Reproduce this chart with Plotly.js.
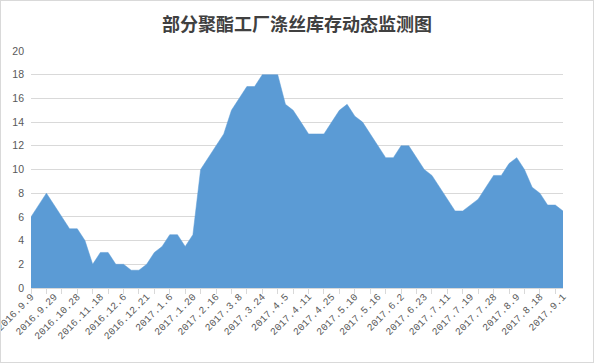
<!DOCTYPE html>
<html>
<head>
<meta charset="utf-8">
<script src="https://cdn.plot.ly/plotly-3.0.1.min.js"></script>
<style>
  html, body { margin: 0; padding: 0; background: #ffffff; }
  #wrap { width: 594px; height: 363px; box-sizing: border-box; border: 1px solid #d9d9d9; background: #fff; overflow: hidden; }
  #chart { width: 592px; height: 361px; }
</style>
</head>
<body>
<div id="wrap"><div id="chart"></div></div>
<script>
// Tick labels (every third observation is labelled)
const tickLabels = [
  "2016.9.9", "2016.9.29", "2016.10.28", "2016.11.18", "2016.12.6", "2016.12.21",
  "2017.1.6", "2017.1.20", "2017.2.16", "2017.3.8", "2017.3.24", "2017.4.5",
  "2017.4.11", "2017.4.25", "2017.5.10", "2017.5.16", "2017.6.2", "2017.6.23",
  "2017.7.11", "2017.7.19", "2017.7.28", "2017.8.9", "2017.8.18", "2017.9.1"
];

// Inventory (days), one value per observation
const inventoryDays = [
  6, 7, 8, 7, 6, 5, 5, 4, 2, 3,
  3, 2, 2, 1.5, 1.5, 2, 3, 3.5, 4.5, 4.5,
  3.5, 4.5, 10, 11, 12, 13, 15, 16, 17, 17,
  18, 18, 18, 15.5, 15, 14, 13, 13, 13, 14,
  15, 15.5, 14.5, 14, 13, 12, 11, 11, 12, 12,
  11, 10, 9.5, 8.5, 7.5, 6.5, 6.5, 7, 7.5, 8.5,
  9.5, 9.5, 10.5, 11, 10, 8.5, 8, 7, 7, 6.5
];

const titleText = "部分聚酯工厂涤丝库存动态监测图";

const labelEvery = 3;
const tickEvery = 2;

const idx = inventoryDays.map((_, i) => i);
const lastIdx = idx.length - 1;
const labelVals = tickLabels.map((_, i) => i * labelEvery);
const tickVals = idx.filter(i => i % tickEvery === 0);

const traces = [
  {
    x: idx, y: inventoryDays, type: "scatter", mode: "lines",
    fill: "tozeroy", fillcolor: "#5b9bd5",
    line: { color: "#5b9bd5", width: 0.5 },
    xaxis: "x", yaxis: "y", hoverinfo: "skip", showlegend: false
  },
  {
    x: idx, y: inventoryDays, type: "scatter", mode: "lines",
    line: { color: "#5b9bd5", width: 0 },
    xaxis: "x2", yaxis: "y", hoverinfo: "skip", showlegend: false
  }
];

const layout = {
  width: 592, height: 361,
  margin: { l: 30, r: 30, t: 50, b: 74 },
  paper_bgcolor: "#ffffff", plot_bgcolor: "#ffffff",
  showlegend: false,
  title: {
    text: titleText,
    font: { family: "Noto Sans CJK SC", size: 18, color: "#404040", weight: "bold" },
    x: 0.5, xanchor: "center", xref: "paper",
    y: 0.935, yanchor: "middle", yref: "container"
  },
  xaxis: {
    range: [0, lastIdx],
    tickmode: "array", tickvals: tickVals,
    showticklabels: false,
    ticks: "outside", ticklen: 5, tickcolor: "#d9d9d9", tickwidth: 1,
    showline: true, linecolor: "#d9d9d9", linewidth: 1,
    showgrid: false, zeroline: false, fixedrange: true
  },
  xaxis2: {
    overlaying: "x", anchor: "y", side: "bottom",
    range: [0, lastIdx],
    tickmode: "array", tickvals: labelVals, ticktext: tickLabels,
    tickangle: -45,
    ticklabeloverflow: "allow",
    tickfont: { family: "Liberation Mono", size: 10, color: "#595959" },
    ticks: "", showline: false, showgrid: false, zeroline: false, fixedrange: true
  },
  yaxis: {
    range: [0, 20], dtick: 2, tick0: 0,
    showgrid: true, gridcolor: "#d9d9d9", gridwidth: 1,
    zeroline: false, showline: false, ticks: "",
    ticklabelstandoff: 6,
    tickfont: { family: "Liberation Sans", size: 10.5, color: "#595959" },
    fixedrange: true
  }
};

Plotly.newPlot("chart", traces, layout, { displayModeBar: false, staticPlot: true });
</script>
</body>
</html>
